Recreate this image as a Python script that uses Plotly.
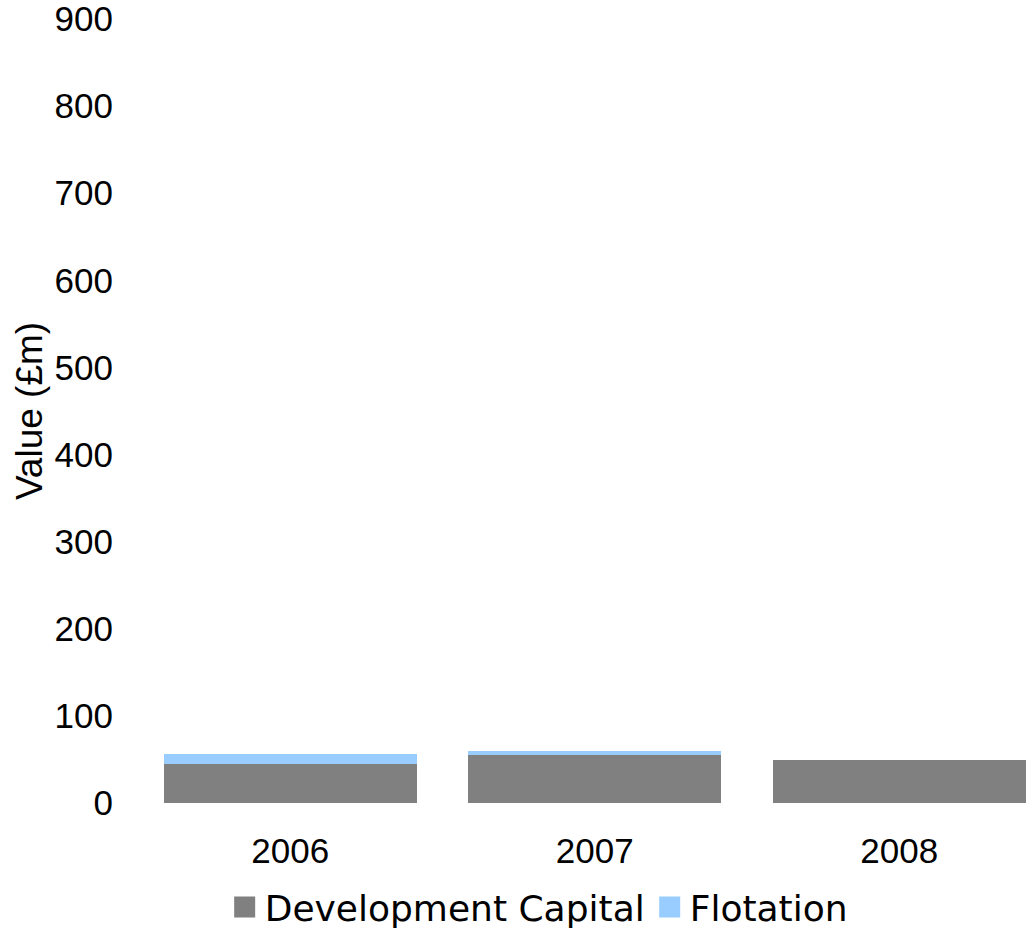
import plotly.graph_objects as go

years = ["2006", "2007", "2008"]
dev_capital = [45, 55, 49]
flotation = [11.5, 4.5, 0]
series_names = ["Development Capital", "Flotation"]
series_colors = ["#808080", "#99CCFF"]

fig = go.Figure()
for vals, name, col in zip([dev_capital, flotation], series_names, series_colors):
    fig.add_trace(go.Bar(x=years, y=vals, name=name, showlegend=False,
                         marker=dict(color=col, line=dict(width=0))))
# legend entries with larger square swatches
for name, col in zip(series_names, series_colors):
    fig.add_trace(go.Scatter(x=[None], y=[None], mode="markers", name=name,
                             marker=dict(symbol="square", size=16, color=col,
                                         line=dict(width=5, color=col))))

fig.update_layout(
    barmode="stack",
    bargap=0.17,
    width=1028, height=928,
    margin=dict(l=138, r=0, t=19, b=125),
    paper_bgcolor="white", plot_bgcolor="white",
    font=dict(family="Liberation Sans, Arial, sans-serif", size=35, color="black"),
    showlegend=True,
    legend=dict(orientation="h", xref="container", yref="container",
                x=0.524, y=1 - 907 / 928, xanchor="center", yanchor="middle",
                font=dict(family="DejaVu Sans, sans-serif", size=36),
                itemsizing="trace", traceorder="normal"),
    xaxis=dict(range=[-0.5, 2.423], showgrid=False, showline=False, zeroline=False,
               ticks="", ticklabelstandoff=24, automargin=False),
    yaxis=dict(range=[0, 900], dtick=100, showgrid=False, showline=False, zeroline=False,
               ticks="", ticklabelstandoff=24, ticklabeloverflow="allow", automargin=False,
               title=dict(text="Value (£m)", standoff=0, font=dict(size=37))),
)

fig.write_html("out.html",
               config={"displayModeBar": False},
               post_script="document.body.style.margin='0';document.body.style.overflow='hidden';")
